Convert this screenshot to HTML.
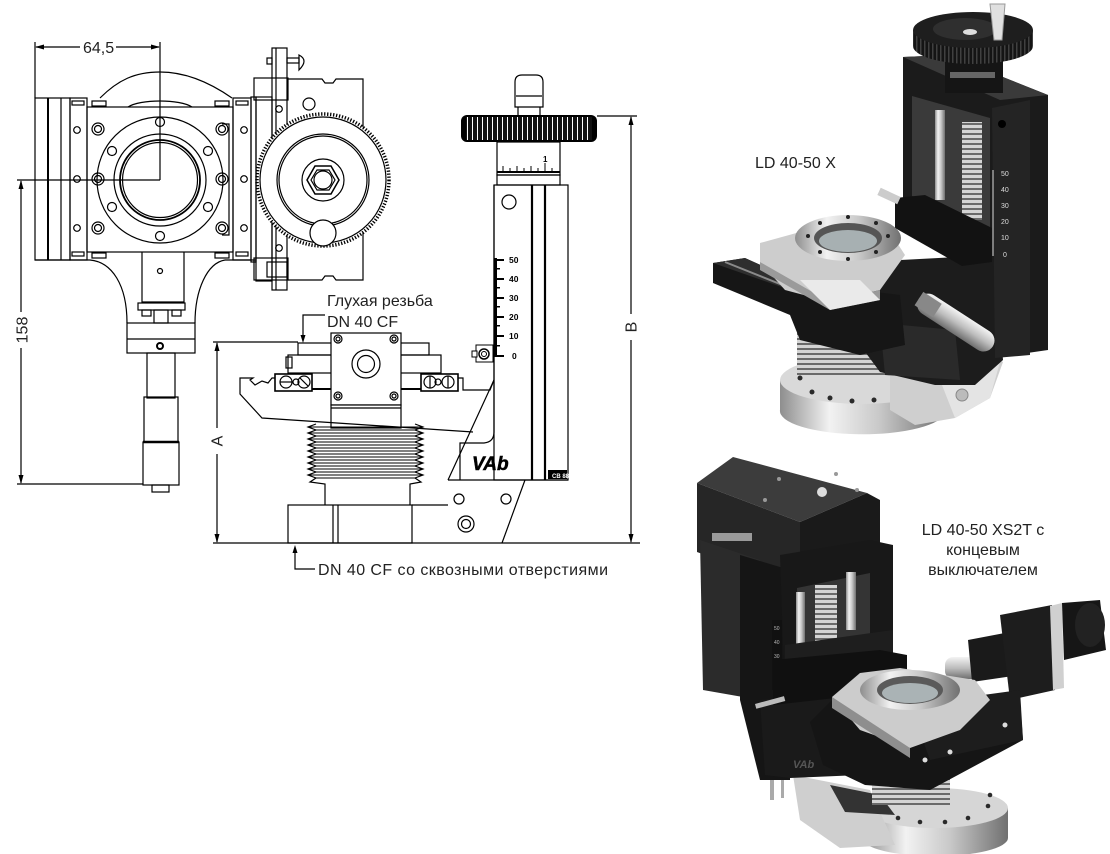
<!DOCTYPE html>
<html><head><meta charset="utf-8"><style>
html,body{margin:0;padding:0;background:#fff;}
svg{display:block;}
text{font-family:"Liberation Sans","DejaVu Sans",sans-serif;}
</style></head><body>
<svg width="1110" height="854" viewBox="0 0 1110 854" xmlns="http://www.w3.org/2000/svg">
<defs>
<linearGradient id="sil" x1="0" y1="0" x2="1" y2="0"><stop offset="0" stop-color="#8e8e8e"/><stop offset="0.3" stop-color="#f2f2f2"/><stop offset="0.6" stop-color="#c9c9c9"/><stop offset="1" stop-color="#707070"/></linearGradient>
<linearGradient id="silv" x1="0" y1="0" x2="0" y2="1"><stop offset="0" stop-color="#f4f4f4"/><stop offset="0.5" stop-color="#bdbdbd"/><stop offset="1" stop-color="#6e6e6e"/></linearGradient>
<pattern id="knurl" width="4" height="20" patternUnits="userSpaceOnUse"><rect width="4" height="20" fill="#141414"/><rect width="1.5" height="20" fill="#404040"/></pattern>
<pattern id="rib" width="10" height="5" patternUnits="userSpaceOnUse"><rect width="10" height="5" fill="#d4d4d4"/><rect y="3" width="10" height="2" fill="#6a6a6a"/></pattern>
<pattern id="ribv" width="6" height="10" patternUnits="userSpaceOnUse"><rect width="6" height="10" fill="#d0d0d0"/><rect y="6" width="6" height="4" fill="#707070"/></pattern>
<pattern id="kstr" width="5" height="30" patternUnits="userSpaceOnUse"><rect width="5" height="30" fill="#111"/><rect x="2" width="1" height="30" fill="#fff"/></pattern>
</defs>

<!-- ================= LEFT: TOP VIEW DRAWING ================= -->
<g stroke="#000" stroke-width="1.2" fill="none">
  <!-- dimension 64,5 -->
  <line x1="35" y1="42" x2="35" y2="98"/>
  <line x1="160" y1="42" x2="160" y2="180"/>
  <line x1="36" y1="47" x2="80" y2="47"/>
  <line x1="116" y1="47" x2="159" y2="47"/>
  <line x1="17" y1="180" x2="160" y2="180"/>
  <!-- top arc -->
  <path d="M100,98 C118,80 135,72 160,72 C188,72 212,84 232,98"/>
  <path d="M128,107 C140,99 180,99 192,107"/>
  <!-- left plate -->
  <rect x="35" y="98" width="35" height="162"/>
  <line x1="48" y1="98" x2="48" y2="260" stroke-width="2"/>
  <line x1="61" y1="98" x2="61" y2="260"/>
  <rect x="70" y="98" width="17" height="162"/>
  <rect x="72" y="101" width="12" height="4"/>
  <rect x="72" y="252" width="12" height="4"/>
  <!-- main body -->
  <rect x="87" y="107" width="146" height="145"/>
  <rect x="92" y="101" width="14" height="5"/>
  <rect x="215" y="101" width="14" height="5"/>
  <rect x="92" y="253" width="14" height="5"/>
  <rect x="215" y="253" width="14" height="5"/>
  <!-- flange -->
  <circle cx="160" cy="180" r="63"/>
  <circle cx="160" cy="180" r="46"/>
  <circle cx="160" cy="180" r="40" stroke-width="1.8"/>
  <circle cx="160" cy="180" r="37.5"/>
  <circle cx="160" cy="122" r="4.5"/>
  <circle cx="160" cy="236" r="4.5"/>
  <circle cx="112" cy="151" r="4.5"/>
  <circle cx="208" cy="151" r="4.5"/>
  <circle cx="112" cy="207" r="4.5"/>
  <circle cx="208" cy="207" r="4.5"/>
  <!-- screws -->
  <circle cx="98" cy="129" r="6"/><circle cx="98" cy="129" r="3.5"/>
  <circle cx="98" cy="179" r="6"/><circle cx="98" cy="179" r="3.5"/>
  <circle cx="98" cy="228" r="6"/><circle cx="98" cy="228" r="3.5"/>
  <circle cx="222" cy="129" r="6"/><circle cx="222" cy="129" r="3.5"/>
  <circle cx="222" cy="179" r="6"/><circle cx="222" cy="179" r="3.5"/>
  <circle cx="222" cy="228" r="6"/><circle cx="222" cy="228" r="3.5"/>
  <path d="M222,124 L229,124 L229,235 L222,235"/>
  <circle cx="77" cy="130" r="3.3"/><circle cx="77" cy="179" r="3.3"/><circle cx="77" cy="228" r="3.3"/>
  <!-- right rail -->
  <rect x="233" y="98" width="18" height="162"/>
  <circle cx="244" cy="130" r="3.3"/><circle cx="244" cy="179" r="3.3"/><circle cx="244" cy="228" r="3.3"/>
  <rect x="236" y="101" width="12" height="4"/>
  <rect x="236" y="252" width="12" height="4"/>
  <rect x="251" y="97" width="5" height="165"/>
  <rect x="256" y="97" width="16" height="184"/>
  <circle cx="279" cy="109" r="3.3"/>
  <circle cx="279" cy="248" r="3.3"/>
  <!-- side screw -->
  <rect x="272" y="48" width="15" height="242"/>
  <line x1="276" y1="48" x2="276" y2="290"/>
  <rect x="267" y="58" width="5" height="6"/>
  <rect x="287" y="58" width="12" height="5"/>
  <path d="M299,55 Q309,60 299,70 Z"/>
  <rect x="267" y="262" width="20" height="15"/>
  <!-- right box -->
  <path d="M288,79 L322,79 L325,83 L333,83 L336,79 L363,79 L363,280 L336,280 L333,276 L325,276 L322,280 L288,280"/>
  <rect x="254" y="78" width="34" height="22"/>
  <rect x="254" y="258" width="34" height="22"/>
  <circle cx="309" cy="104" r="6"/>
  <!-- dial -->
  <circle cx="323" cy="180" r="66" stroke-width="3.5" stroke-dasharray="1.3 1.7" fill="#fff"/>
  <circle cx="323" cy="180" r="63"/>
  <circle cx="323" cy="180" r="46"/>
  <circle cx="323" cy="180" r="44"/>
  <circle cx="323" cy="180" r="21"/>
  <polygon points="339,180 331,194 315,194 307,180 315,166 331,166" stroke-width="1.5"/>
  <polygon points="335,180 329,190 317,190 311,180 317,170 329,170"/>
  <circle cx="323" cy="180" r="9"/>
  <circle cx="323" cy="233" r="13" fill="#fff"/>
  <!-- lower body -->
  <line x1="35" y1="260" x2="90" y2="260"/>
  <line x1="225" y1="260" x2="256" y2="260"/>
  <path d="M90,260 C112,262 127,285 127,323"/>
  <path d="M225,260 C207,263 195,290 195,323"/>
  <path d="M142,252 L142,302 L184,302 L184,252"/>
  <circle cx="160" cy="271" r="2.5"/>
  <rect x="138" y="303" width="47" height="7"/>
  <rect x="142" y="310" width="9" height="6"/>
  <rect x="172" y="310" width="9" height="6"/>
  <rect x="154" y="310" width="14" height="13"/>
  <rect x="127" y="323" width="68" height="30"/>
  <line x1="127" y1="339" x2="195" y2="339"/>
  <circle cx="160" cy="346" r="3" stroke-width="2"/>
  <!-- micrometer -->
  <rect x="147" y="353" width="28" height="45"/>
  <rect x="144" y="397" width="34" height="45"/>
  <rect x="143" y="442" width="36" height="43"/>
  <line x1="143" y1="442" x2="179" y2="442" stroke-width="2.5"/>
  <rect x="152" y="485" width="17" height="7"/>
  <!-- dim 158 -->
  <line x1="21" y1="181" x2="21" y2="312"/>
  <line x1="21" y1="348" x2="21" y2="483"/>
  <line x1="17" y1="484" x2="143" y2="484"/>
</g>
<g fill="#000">
  <polygon points="35,47 44,44.5 44,49.5"/>
  <polygon points="160,47 151,44.5 151,49.5"/>
  <polygon points="21,180 18.5,189 23.5,189"/>
  <polygon points="21,484 18.5,475 23.5,475"/>
</g>
<text x="83" y="53" font-size="16" fill="#222">64,5</text>
<text transform="translate(27.5,330) rotate(-90)" font-size="16" text-anchor="middle" fill="#222">158</text>

<!-- ================= SIDE VIEW DRAWING ================= -->
<g stroke="#000" stroke-width="1.2" fill="none">
  <!-- dims A, B -->
  <line x1="213" y1="342" x2="298" y2="342"/>
  <line x1="217" y1="343" x2="217" y2="428"/>
  <line x1="217" y1="454" x2="217" y2="542"/>
  <line x1="213" y1="543" x2="640" y2="543"/>
  <line x1="597" y1="116" x2="637" y2="116"/>
  <line x1="631" y1="117" x2="631" y2="314"/>
  <line x1="631" y1="340" x2="631" y2="542"/>
  <!-- leaders -->
  <path d="M325,315 L303,315 L303,336"/>
  <path d="M315,569 L295,569 L295,552"/>
  <!-- top plates -->
  <rect x="298" y="343" width="34" height="12"/>
  <rect x="400" y="343" width="29" height="12"/>
  <rect x="288" y="355" width="153" height="18"/>
  <rect x="286" y="357" width="6" height="11"/>
  <!-- center block -->
  <rect x="331" y="333" width="70" height="72" fill="#fff"/>
  <rect x="331" y="405" width="70" height="23" fill="#fff"/>
  <line x1="331" y1="408" x2="401" y2="408"/>
  <circle cx="366" cy="364" r="14"/>
  <circle cx="366" cy="364" r="8.5"/>
  <circle cx="338" cy="339" r="4"/><circle cx="338" cy="339" r="2"/>
  <circle cx="394" cy="339" r="4"/><circle cx="394" cy="339" r="2"/>
  <circle cx="338" cy="396" r="4"/><circle cx="338" cy="396" r="2"/>
  <circle cx="394" cy="396" r="4"/><circle cx="394" cy="396" r="2"/>
  <!-- ball bits -->
  <rect x="275" y="374" width="37" height="17" stroke-width="1.6"/>
  <circle cx="286" cy="382" r="6"/><line x1="280" y1="382" x2="292" y2="382"/>
  <circle cx="296" cy="382" r="3"/>
  <circle cx="304" cy="382" r="6"/><line x1="300" y1="378" x2="308" y2="386"/>
  <rect x="421" y="374" width="37" height="17" stroke-width="1.6"/>
  <circle cx="430" cy="382" r="6"/><line x1="430" y1="376" x2="430" y2="388"/>
  <circle cx="438" cy="382" r="3"/>
  <circle cx="448" cy="382" r="6"/><line x1="448" y1="376" x2="448" y2="388"/>
  <!-- platform -->
  <path d="M275,378 L272,378 L268,383 L262,381 L255,385 L250,380 L253,378 L240,378 L240,394 L262,418 L473,432"/>
  <line x1="312" y1="389" x2="331" y2="389" stroke-width="2"/>
  <line x1="401" y1="389" x2="421" y2="389" stroke-width="2"/>
  <path d="M458,378 L463,378 L463,390 L490,390 L494,380"/>
  <!-- bracket -->
  <line x1="494" y1="380" x2="448" y2="480"/>
  <path d="M494,185 L494,432 Q494,442 484,443 L460,443 L460,480"/>
  <line x1="448" y1="480" x2="568" y2="480"/>
  <line x1="525" y1="480" x2="502" y2="543"/>
  <line x1="412" y1="505" x2="448" y2="505"/>
  <circle cx="459" cy="499" r="5"/>
  <circle cx="506" cy="499" r="5"/>
  <circle cx="466" cy="524" r="8"/><circle cx="466" cy="524" r="4.5"/>
  <!-- bellows -->
  <path d="M316,424 L308,427 L316,430 L308,433 L316,436 L308,439 L316,442 L308,445 L316,448 L308,451 L316,454 L308,457 L316,460 L308,463 L316,466 L308,469 L316,472 L308,475 L316,478 L310,482 L325,484 L325,505"/>
  <path d="M415,424 L423,427 L415,430 L423,433 L415,436 L423,439 L415,442 L423,445 L415,448 L423,451 L415,454 L423,457 L415,460 L423,463 L415,466 L423,469 L415,472 L423,475 L415,478 L421,482 L410,484 L410,505"/>
  <g stroke-width="0.9">
  <line x1="308" y1="427" x2="423" y2="427"/><line x1="316" y1="430" x2="415" y2="430"/>
  <line x1="308" y1="433" x2="423" y2="433"/><line x1="316" y1="436" x2="415" y2="436"/>
  <line x1="308" y1="439" x2="423" y2="439"/><line x1="316" y1="442" x2="415" y2="442"/>
  <line x1="308" y1="445" x2="423" y2="445"/><line x1="316" y1="448" x2="415" y2="448"/>
  <line x1="308" y1="451" x2="423" y2="451"/><line x1="316" y1="454" x2="415" y2="454"/>
  <line x1="308" y1="457" x2="423" y2="457"/><line x1="316" y1="460" x2="415" y2="460"/>
  <line x1="308" y1="463" x2="423" y2="463"/><line x1="316" y1="466" x2="415" y2="466"/>
  <line x1="308" y1="469" x2="423" y2="469"/><line x1="316" y1="472" x2="415" y2="472"/>
  <line x1="308" y1="475" x2="423" y2="475"/><line x1="316" y1="478" x2="415" y2="478"/>
  </g>
  <!-- base -->
  <rect x="288" y="505" width="124" height="38"/>
  <line x1="333" y1="505" x2="333" y2="543"/>
  <line x1="338" y1="505" x2="338" y2="543"/>
  <!-- rail -->
  <rect x="494" y="185" width="74" height="295"/>
  <line x1="532" y1="185" x2="532" y2="480" stroke-width="2.2"/>
  <line x1="545" y1="185" x2="545" y2="480" stroke-width="2.2"/>
  <circle cx="509" cy="202" r="7"/>
  <!-- collar -->
  <rect x="497" y="142" width="63" height="33"/>
  <rect x="497" y="175" width="63" height="10"/>
  <!-- knob handle -->
  <rect x="518" y="105" width="22" height="11"/>
  <path d="M515,107 L515,82 Q515,75 522,75 L536,75 Q543,75 543,82 L543,107 Z" fill="#fff"/>
  <line x1="516" y1="96" x2="542" y2="96"/>
</g>
<!-- scale (dark) -->
<g fill="#000">
  <polygon points="303,343 300.5,335 305.5,335"/>
  <polygon points="295,545 292.5,553 297.5,553"/>
  <polygon points="217,342 214.5,351 219.5,351"/>
  <polygon points="217,543 214.5,534 219.5,534"/>
  <polygon points="631,116 628.5,125 633.5,125"/>
  <polygon points="631,543 628.5,534 633.5,534"/>
  <rect x="494" y="258" width="3" height="99"/>
  <rect x="497" y="259" width="7" height="2"/><rect x="497" y="278" width="7" height="2"/>
  <rect x="497" y="297" width="7" height="2"/><rect x="497" y="316" width="7" height="2"/>
  <rect x="497" y="335" width="7" height="2"/><rect x="497" y="355" width="7" height="2"/>
  <rect x="497" y="268" width="3" height="1.5"/><rect x="497" y="287" width="3" height="1.5"/>
  <rect x="497" y="306" width="3" height="1.5"/><rect x="497" y="325" width="3" height="1.5"/>
  <rect x="497" y="345" width="3" height="1.5"/>
  <rect x="461" y="115" width="136" height="27" rx="6"/>
  <rect x="548" y="470" width="19" height="9"/>
  <rect x="497" y="171" width="63" height="2"/>
</g>
<rect x="466" y="117" width="126" height="23" fill="url(#kstr)"/>
<g stroke="#000" stroke-width="1" fill="none">
  <line x1="503" y1="166" x2="503" y2="171"/><line x1="510" y1="168" x2="510" y2="171"/>
  <line x1="517" y1="166" x2="517" y2="171"/><line x1="524" y1="168" x2="524" y2="171"/>
  <line x1="531" y1="166" x2="531" y2="171"/><line x1="538" y1="168" x2="538" y2="171"/>
  <line x1="545" y1="163" x2="545" y2="171"/><line x1="552" y1="168" x2="552" y2="171"/>
  <rect x="476" y="345" width="17" height="17" fill="#fff"/>
  <circle cx="484" cy="354" r="5" stroke-width="1.5"/>
  <circle cx="484" cy="354" r="2.5"/>
  <rect x="472" y="351" width="5" height="6" fill="#fff"/>
</g>
<g font-size="8.5" font-weight="bold" fill="#000">
  <text x="509" y="263">50</text><text x="509" y="282">40</text>
  <text x="509" y="301">30</text><text x="509" y="320">20</text>
  <text x="509" y="339">10</text><text x="512" y="359">0</text>
  <text x="543" y="162" font-size="8">1</text>
</g>
<text x="552" y="478" font-size="6" fill="#fff" font-weight="bold">CB 88</text>
<text x="472" y="470" font-size="19" font-weight="bold" font-style="italic" fill="#000" stroke="#000" stroke-width="0.5">VAb</text>

<text x="327" y="306" font-size="16" fill="#222">Глухая резьба</text>
<text x="327" y="327" font-size="16" fill="#222">DN 40 CF</text>
<text x="318" y="575" font-size="16" fill="#222" textLength="290" lengthAdjust="spacing">DN 40 CF со сквозными отверстиями</text>
<text transform="translate(222.5,441) rotate(-90)" font-size="16" text-anchor="middle" fill="#222">A</text>
<text transform="translate(636.5,327) rotate(-90)" font-size="16" text-anchor="middle" fill="#222">B</text>

<!-- ================= TOP RIGHT RENDER ================= -->
<g>
  <!-- base -->
  <path d="M780,380 L780,410 A78,22 0 0 0 945,412 L945,380 Z" fill="url(#sil)"/>
  <ellipse cx="862" cy="380" rx="82" ry="24" fill="#d9d9d9"/>
  <g fill="#2a2a2a">
    <circle cx="800" cy="378" r="2.5"/><circle cx="812" cy="392" r="2.5"/><circle cx="830" cy="398" r="2.5"/>
    <circle cx="852" cy="401" r="2.5"/><circle cx="874" cy="400" r="2.5"/><circle cx="896" cy="396" r="2.5"/>
    <circle cx="805" cy="370" r="2.5"/><circle cx="920" cy="388" r="2.5"/>
  </g>
  <!-- bracket silver -->
  <polygon points="890,355 980,350 1003,362 990,398 955,418 915,425 890,410" fill="#cfcfcf"/>
  <polygon points="940,380 1000,362 990,398 955,418" fill="#e4e4e4"/>
  <circle cx="962" cy="395" r="6" fill="#bbb" stroke="#888"/>
  <!-- bellows -->
  <rect x="797" y="330" width="88" height="45" fill="url(#rib)"/>
  <!-- black middle body -->
  <polygon points="862,262 995,255 1003,360 975,385 935,385 880,372 860,345" fill="#1c1c1c"/>
  <polygon points="880,323 955,330 960,380 885,375" fill="#2a2a2a"/>
  <!-- column -->
  <polygon points="903,57 948,55 1048,95 1048,350 1000,357 995,262 903,232" fill="#1b1b1b"/>
  <polygon points="992,108 1030,100 1030,355 995,358" fill="#242424"/>
  <polygon points="903,57 948,55 1048,95 1000,100" fill="#3a3a3a"/>
  <polygon points="912,96 990,118 990,228 912,196" fill="#3a3a3a"/>
  <rect x="935" y="110" width="10" height="90" fill="url(#sil)"/>
  <rect x="962" y="122" width="20" height="98" fill="url(#rib)"/>
  <line x1="993" y1="170" x2="993" y2="256" stroke="#ddd" stroke-width="1"/>
  <g font-size="7" fill="#ddd">
    <text x="1001" y="176">50</text><text x="1001" y="192">40</text><text x="1001" y="208">30</text>
    <text x="1001" y="224">20</text><text x="1001" y="240">10</text><text x="1003" y="257">0</text>
  </g>
  <circle cx="1002" cy="124" r="4" fill="#000"/>
  <!-- carriage -->
  <polygon points="895,198 925,195 992,228 992,262 962,266 895,228" fill="#121212"/>
  <rect x="878" y="192" width="22" height="8" fill="#ccc" transform="rotate(25 889 196)"/>
  <!-- tray -->
  <polygon points="713,263 745,258 800,283 900,295 905,345 860,355 800,340 790,315 713,283" fill="#161616"/>
  <polygon points="713,263 745,258 800,283 790,290" fill="#2e2e2e"/>
  <line x1="725" y1="262" x2="820" y2="300" stroke="#8a8a8a" stroke-width="2"/>
  <!-- silver platform -->
  <polygon points="760,243 800,232 890,232 905,255 880,290 830,302 785,290 760,262" fill="#cdcdcd"/>
  <polygon points="760,262 830,302 880,290 880,300 830,310 760,270" fill="#9a9a9a"/>
  <polygon points="800,280 860,280 880,300 830,310" fill="#eaeaea"/>
  <ellipse cx="848" cy="238" rx="53" ry="23" fill="url(#sil)"/>
  <ellipse cx="848" cy="238" rx="34" ry="15" fill="#555"/>
  <ellipse cx="848" cy="241" rx="29" ry="11" fill="#a7b0b2"/>
  <g fill="#222"><circle cx="808" cy="236" r="2"/><circle cx="888" cy="236" r="2"/><circle cx="848" cy="217" r="2"/><circle cx="848" cy="259" r="2"/><circle cx="820" cy="252" r="2"/><circle cx="876" cy="252" r="2"/><circle cx="820" cy="223" r="2"/><circle cx="876" cy="223" r="2"/></g>
  <!-- micrometer -->
  <g transform="rotate(33 955 322)">
    <rect x="912" y="311" width="88" height="22" rx="11" fill="url(#silv)"/>
    <rect x="912" y="314" width="22" height="16" fill="#888"/>
  </g>
  <!-- knob -->
  <rect x="945" y="55" width="58" height="38" fill="#151515"/>
  <rect x="950" y="72" width="45" height="6" fill="#666"/>
  <ellipse cx="973" cy="46" rx="60" ry="18" fill="url(#knurl)"/>
  <rect x="913" y="30" width="120" height="16" fill="url(#knurl)"/>
  <ellipse cx="973" cy="30" rx="60" ry="18" fill="#1e1e1e"/>
  <ellipse cx="965" cy="29" rx="32" ry="11" fill="#2f2f2f"/>
  <ellipse cx="970" cy="32" rx="7" ry="3" fill="#ddd"/>
  <polygon points="990,4 1005,4 1002,40 994,40" fill="#e0e0e0" stroke="#999" stroke-width="1"/>
</g>
<text x="755" y="168" font-size="16" fill="#222">LD 40-50 X</text>

<!-- ================= BOTTOM RIGHT RENDER ================= -->
<g>
  <!-- base -->
  <path d="M862,808 L862,838 A72,18 0 0 0 1008,838 L1008,808 Z" fill="url(#sil)"/>
  <ellipse cx="935" cy="808" rx="73" ry="20" fill="#d6d6d6"/>
  <g fill="#2a2a2a"><circle cx="880" cy="810" r="2.3"/><circle cx="898" cy="818" r="2.3"/><circle cx="920" cy="822" r="2.3"/><circle cx="945" cy="822" r="2.3"/><circle cx="968" cy="818" r="2.3"/><circle cx="988" cy="806" r="2.3"/><circle cx="990" cy="795" r="2.3"/></g>
  <polygon points="793,775 870,790 895,845 840,848 800,820" fill="#cfcfcf"/>
  <polygon points="830,785 880,795 895,815 845,812" fill="#333"/>
  <rect x="872" y="770" width="78" height="35" fill="url(#rib)"/>
  <rect x="770" y="765" width="4" height="35" fill="#aaa"/>
  <rect x="781" y="768" width="3" height="30" fill="#aaa"/>
  <!-- top block -->
  <polygon points="697,483 733,457 867,493 800,522" fill="#3c3c3c"/>
  <circle cx="822" cy="492" r="5" fill="#ddd"/>
  <circle cx="779" cy="479" r="2" fill="#999"/><circle cx="765" cy="500" r="2" fill="#999"/><circle cx="836" cy="474" r="2" fill="#999"/><circle cx="857" cy="490" r="2" fill="#999"/>
  <polygon points="697,483 800,522 800,590 697,552" fill="#262626"/>
  <polygon points="800,522 867,493 880,500 880,560 800,590" fill="#1a1a1a"/>
  <!-- left motor/column -->
  <polygon points="700,540 760,560 760,700 703,690" fill="#2b2b2b"/>
  <rect x="712" y="533" width="40" height="8" fill="#9a9a9a"/>
  <polygon points="740,555 790,570 790,780 760,780 740,700" fill="#151515"/>
  <rect x="772" y="620" width="10" height="70" fill="#111"/>
  <g font-size="5" fill="#bbb"><text x="774" y="630">50</text><text x="774" y="644">40</text><text x="774" y="658">30</text><text x="774" y="672">20</text><text x="774" y="686">10</text></g>
  <!-- frame -->
  <polygon points="780,555 870,540 893,545 893,700 785,705" fill="#181818"/>
  <polygon points="797,588 870,573 870,640 797,652" fill="#343434"/>
  <rect x="796" y="592" width="9" height="60" fill="url(#sil)"/>
  <rect x="815" y="585" width="22" height="60" fill="url(#rib)"/>
  <rect x="846" y="572" width="10" height="58" fill="url(#sil)"/>
  <polygon points="785,645 893,630 893,700 785,705" fill="#1e1e1e"/>
  <!-- lower body -->
  <polygon points="760,700 880,690 885,745 860,775 790,778 765,775" fill="#1a1a1a"/>
  <text x="793" y="768" font-size="11" font-weight="bold" font-style="italic" fill="#555">VAb</text>
  <!-- carriage -->
  <polygon points="773,660 880,650 907,655 907,690 773,705" fill="#101010"/>
  <rect x="755" y="700" width="30" height="5" fill="#bbb" transform="rotate(-15 770 702)"/>
  <!-- right motor -->
  <rect x="945" y="657" width="50" height="22" rx="8" fill="url(#silv)"/>
  <polygon points="968,640 1010,632 1013,676 972,682" fill="#1a1a1a"/>
  <polygon points="1000,615 1052,605 1055,690 1010,700" fill="#1d1d1d"/>
  <polygon points="1050,606 1062,603 1064,688 1053,690" fill="#d0d0d0"/>
  <polygon points="1062,603 1100,600 1106,650 1064,660" fill="#161616"/>
  <ellipse cx="1090" cy="625" rx="15" ry="22" fill="#222"/>
  <!-- tray -->
  <polygon points="810,722 832,700 910,740 1020,700 1023,740 930,790 865,785 823,765" fill="#151515"/>
  <polygon points="910,705 1020,690 1023,740 930,760" fill="#1d1d1d"/>
  <!-- silver platform -->
  <polygon points="832,697 860,673 900,668 975,680 990,700 960,730 910,748 860,730" fill="#cccccc"/>
  <polygon points="832,697 910,748 910,758 832,708" fill="#8e8e8e"/>
  <ellipse cx="910" cy="690" rx="50" ry="20" fill="url(#sil)"/>
  <ellipse cx="910" cy="690" rx="33" ry="14" fill="#5a5a5a"/>
  <ellipse cx="910" cy="693" rx="28" ry="10" fill="#aab3b5"/>
  <rect x="940" y="720" width="30" height="5" fill="#ccc" transform="rotate(-20 955 722)"/>
  <g fill="#ddd"><circle cx="925" cy="760" r="2.5"/><circle cx="950" cy="752" r="2.5"/><circle cx="1005" cy="725" r="2.5"/></g>
</g>
<g font-size="16" fill="#222" text-anchor="middle">
  <text x="983" y="535">LD 40-50 XS2T с</text>
  <text x="983" y="555">концевым</text>
  <text x="983" y="575">выключателем</text>
</g>
</svg>
</body></html>
